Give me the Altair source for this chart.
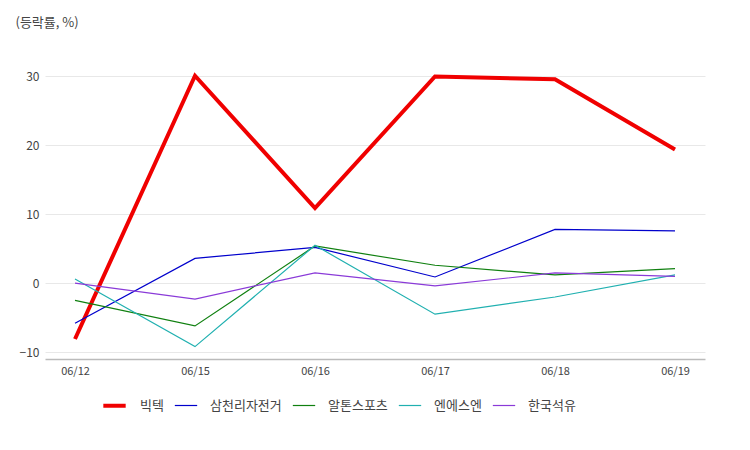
import altair as alt
import pandas as pd

dates = ["06/12", "06/15", "06/16", "06/17", "06/18", "06/19"]
series_names = ["빅텍", "삼천리자전거", "알톤스포츠", "엔에스엔", "한국석유"]
bigtec = [-8.1, 30.1, 10.9, 30.0, 29.6, 19.4]
samchully = [-5.8, 3.6, 5.2, 0.9, 7.8, 7.6]
alton = [-2.5, -6.2, 5.4, 2.6, 1.2, 2.1]
nsn = [0.6, -9.2, 5.5, -4.5, -2.0, 1.2]
kpetro = [0.0, -2.3, 1.5, -0.4, 1.5, 1.0]
colors = ["#f00000", "#0000cc", "#108010", "#20b0b0", "#8a3ad8"]
widths = [4, 1.2, 1.2, 1.2, 1.2]

values = [bigtec, samchully, alton, nsn, kpetro]
rows = []
for name, vals in zip(series_names, values):
    for d, v in zip(dates, vals):
        rows.append({"date": d, "series": name, "value": v})
df = pd.DataFrame(rows)

FONT = "Noto Sans CJK KR"

chart = alt.Chart(df).mark_line().encode(
    x=alt.X("date:N", sort=dates, title=None,
            scale=alt.Scale(type="point", padding=0.25),
            axis=alt.Axis(labelAngle=0, ticks=False, domain=True, domainColor="#bbbbbb",
                          domainWidth=1.5, grid=False, labelPadding=6, labelFontSize=11,
                          labelColor="#444444", labelFont=FONT)),
    y=alt.Y("value:Q", title="(등락률, %)",
            scale=alt.Scale(domain=[-11, 35], nice=False, zero=False),
            axis=alt.Axis(values=[-10, 0, 10, 20, 30], ticks=False, domain=False,
                          gridColor="#e8e8e8", labelPadding=6, labelFontSize=12,
                          labelColor="#444444", labelFont=FONT,
                          titleAngle=0, titleX=-30, titleY=-20, titleAlign="left",
                          titleBaseline="middle", titleFontWeight="normal",
                          titleFontSize=13, titleColor="#444444", titleFont=FONT)),
    color=alt.Color("series:N", sort=series_names, title=None,
                    scale=alt.Scale(domain=series_names, range=colors)),
    strokeWidth=alt.StrokeWidth("series:N", sort=series_names, title=None,
                                scale=alt.Scale(type="ordinal", domain=series_names, range=widths)),
).properties(
    width=660, height=317,
    padding={"left": 37, "top": 34, "right": 37, "bottom": 60},
    autosize=alt.AutoSizeParams(type="none"),
).configure_legend(
    orient="none", legendX=56, legendY=350, direction="horizontal",
    symbolType="stroke", symbolSize=500, labelFontSize=13, labelFont=FONT,
    labelColor="#444444", columnPadding=8, labelOffset=12,
).configure_view(stroke=None)

chart.save("out.html", embed_options={"renderer": "svg", "actions": False})
